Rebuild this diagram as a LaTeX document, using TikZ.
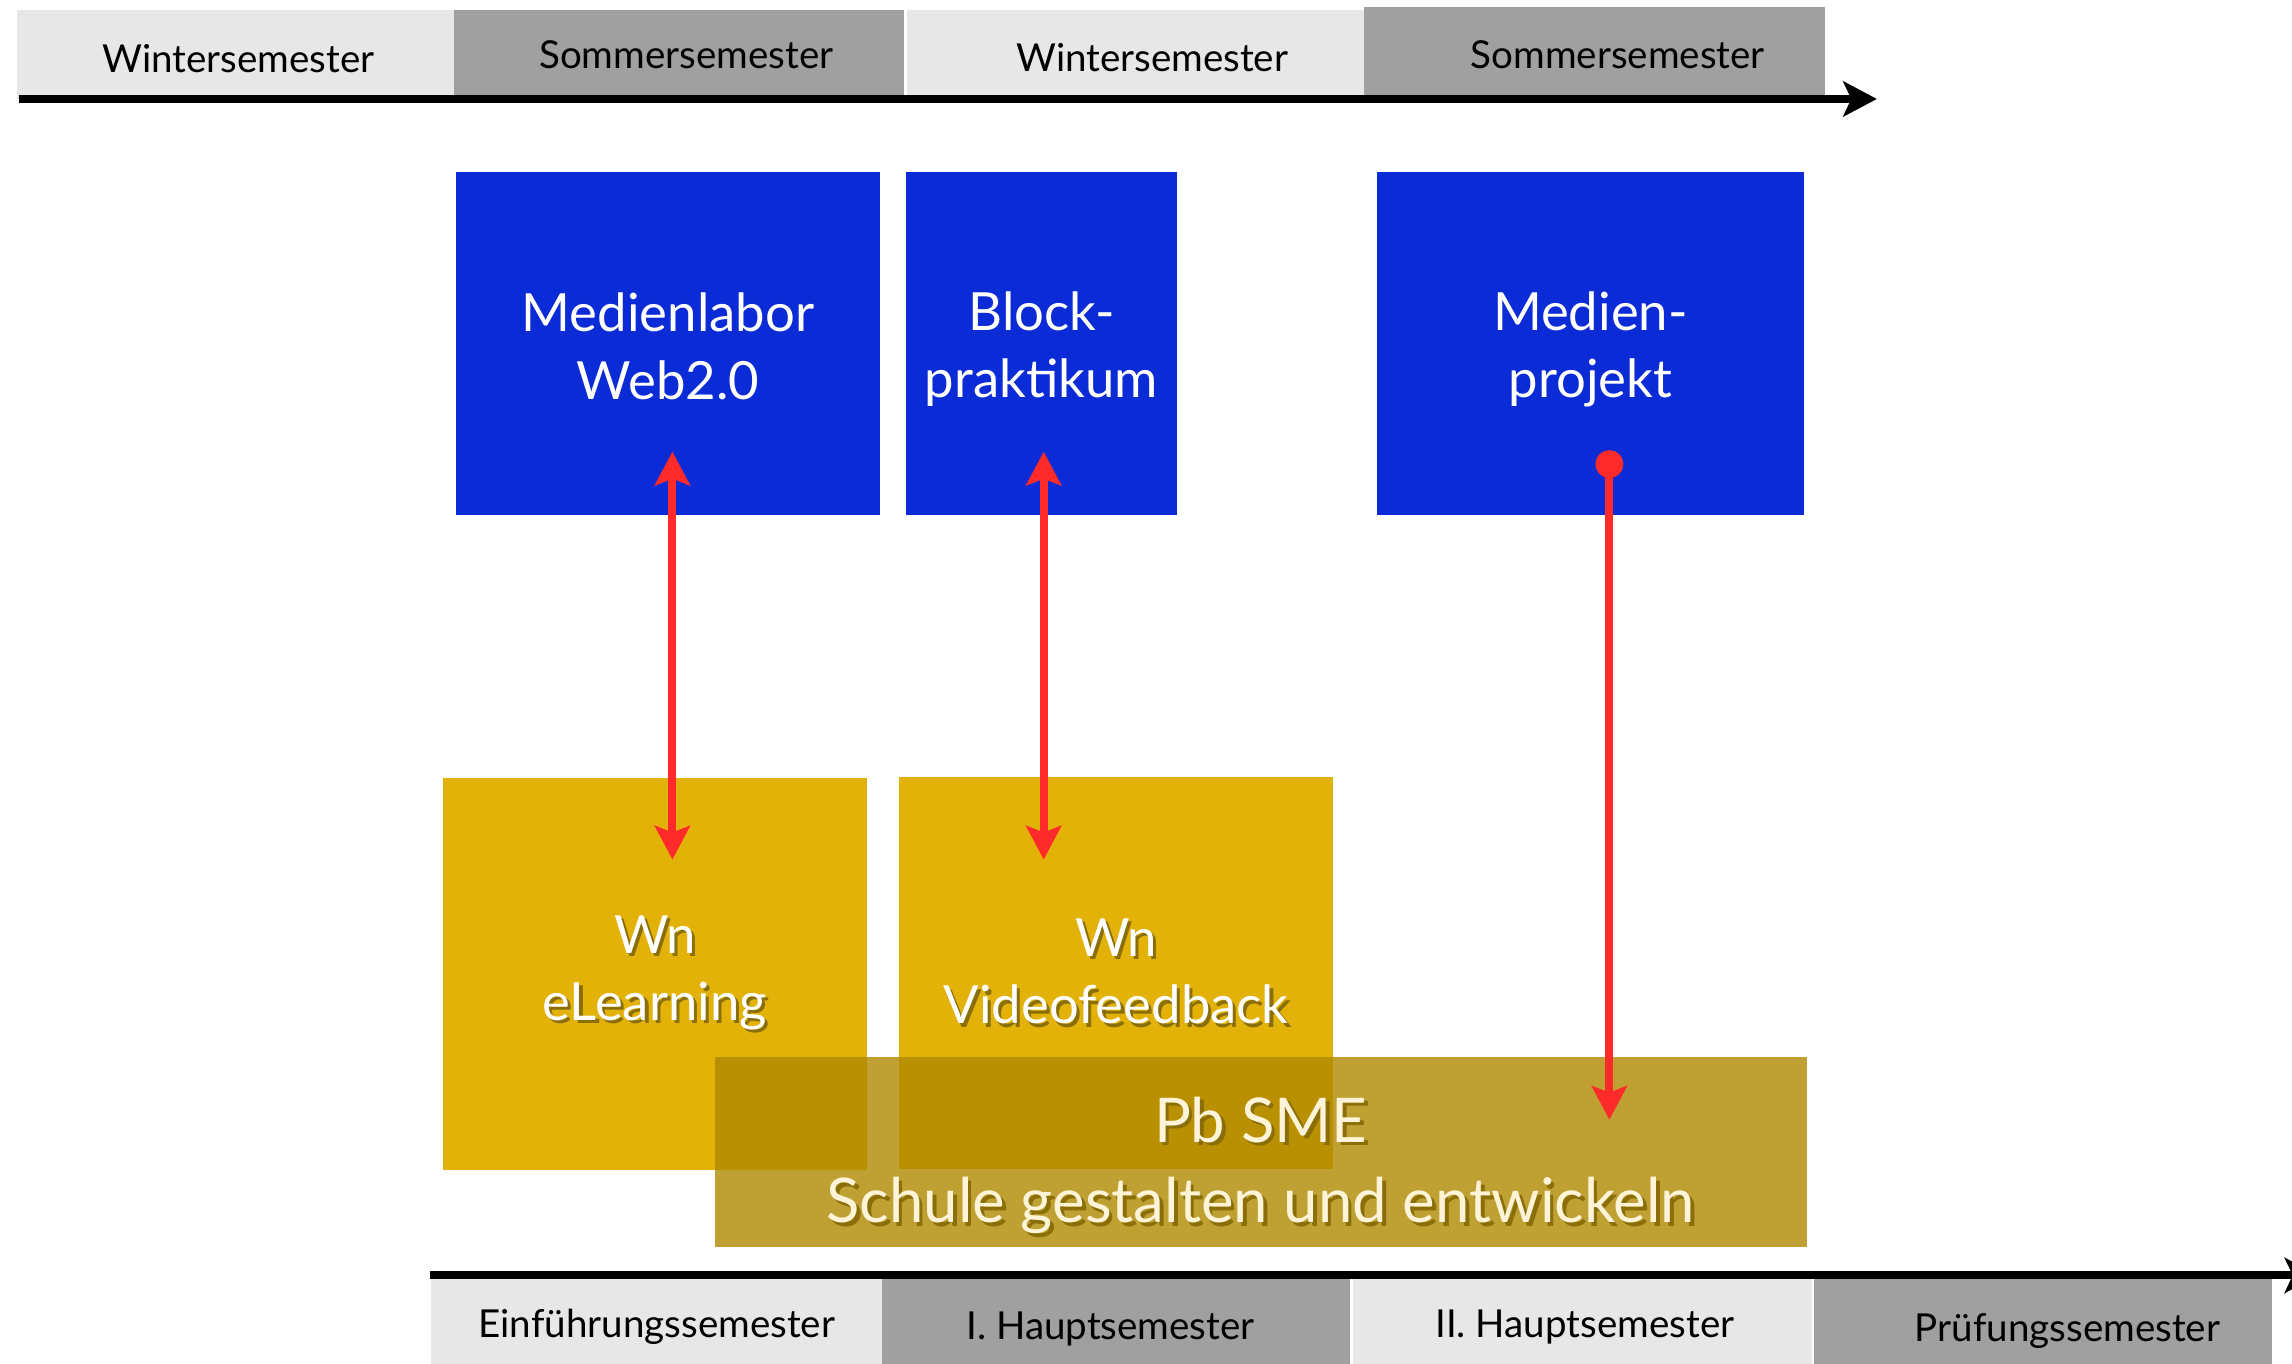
\documentclass[tikz,border=0pt]{standalone}
\usepackage{fontspec}
\setmainfont{Lato}
\usetikzlibrary{arrows.meta,calc}

\definecolor{semhell}{HTML}{E7E7E7}
\definecolor{semdunkel}{HTML}{A0A0A0}
\definecolor{kursblau}{HTML}{0B2BD6}
\definecolor{wahlgelb}{HTML}{E3B209}
\definecolor{pboliv}{HTML}{AF8800}
\definecolor{pfeilrot}{HTML}{FF2A2A}
\definecolor{textcreme}{HTML}{FFF4D8}
\definecolor{schattenbraun}{HTML}{8A6E08}

% Schrift mit weichem Schlagschatten
\newcommand{\mitSchatten}[1]{%
  \makebox[0pt][l]{\kern0.06em\raisebox{-0.06em}{\textcolor{schattenbraun}{#1}}}#1}

\begin{document}
\begin{tikzpicture}[
  x=0.2mm, y=-0.2mm,
  every node/.style={inner sep=0pt, outer sep=0pt},
  bandtext/.style={font=\fontsize{15}{18}\selectfont, text=black},
  bandhell/.style={fill=semhell, minimum height=12.18mm},
  banddunkel/.style={fill=semdunkel, minimum height=12.18mm},
  kurs/.style={fill=kursblau, minimum height=46.8mm},
  kurstext/.style={text=white, align=center, font=\fontsize{20.5}{26.2}\selectfont},
  wahl/.style={fill=wahlgelb, text=white, align=center, minimum height=53.68mm,
    font=\fontsize{20.5}{26.2}\selectfont},
  pbkasten/.style={fill=pboliv, fill opacity=0.8, minimum width=149.4mm, minimum height=26mm},
  pbtext/.style={text=textcreme, align=center, font=\fontsize{24}{31.3}\selectfont},
  achse/.style={line width=1.1mm, -{Stealth[length=4.6mm, width=4.8mm, inset=1.1mm]}},
  zweipfeil/.style={pfeilrot, line width=1.1mm,
    {Stealth[length=4.6mm, width=4.8mm, inset=0.9mm]}-{Stealth[length=4.6mm, width=4.8mm, inset=0.9mm]}},
  punktpfeil/.style={pfeilrot, line width=1.1mm,
    {Circle[length=3.8mm]}-{Stealth[length=4.6mm, width=4.8mm, inset=0.9mm]}},
]
\useasboundingbox (0,0) rectangle (1568,933);

% --- Semesterleiste oben
\node[bandhell, minimum width=59.78mm,
  label={[bandtext, xshift=0.4mm, yshift=-0.6mm]center:Wintersemester}]
  (ws1) at (161.05,37.25) {};
\node[banddunkel, minimum width=61.6mm,
  label={[bandtext, xshift=1mm]center:Sommersemester}]
  (ss1) at (464.5,37.25) {};
\node[bandhell, minimum width=62.7mm,
  label={[bandtext, xshift=2.2mm, yshift=-0.4mm]center:Wintersemester}]
  (ws2) at (777.25,37.25) {};
\node[banddunkel, minimum width=63.1mm, minimum height=12.62mm,
  label={[bandtext, xshift=3.2mm, yshift=-0.2mm]center:Sommersemester}]
  (ss2) at (1090.75,36.15) {};

\coordinate (obenA) at (13,67.7);
\coordinate (obenB) at (1284,67.7);
\draw[achse] (obenA) -- (obenB);

% --- Veranstaltungen
\node[kurs, minimum width=58mm,
  label={[kurstext, yshift=-0.4mm]center:{Medienlabor\\Web2.0}}] (medlab) at (457,235) {};
\node[kurs, minimum width=37mm,
  label={[kurstext, yshift=-0.8mm]center:{Block-\\praktikum}}] (block) at (712.5,235) {};
\node[kurs, minimum width=58.4mm,
  label={[kurstext, yshift=-0.8mm]center:{Medien-\\projekt}}] (medprj) at (1088,235) {};

\node[wahl, minimum width=58mm] (wnel) at (448,666.5)
  {\mitSchatten{Wn}\\\mitSchatten{eLearning}};
\node[wahl, minimum width=59.4mm] (wnvf) at (763.5,665.8)
  {\mitSchatten{Wn}\\\mitSchatten{Videofeedback}};

\node[pbkasten, label={[pbtext, yshift=-2.1mm]center:{\mitSchatten{Pb SME}\\\mitSchatten{Schule gestalten und entwickeln}}}]
  (pbsme) at (862.5,788) {};

% --- Verbindungen
\coordinate (elOben) at (460,309);
\coordinate (elUnten) at (460,588);
\coordinate (vfOben) at (714,309);
\coordinate (vfUnten) at (714,588);
\coordinate (prjStart) at (1101,308);
\coordinate (prjEnde) at (1101,766);
\draw[zweipfeil] (elUnten) -- (elOben);
\draw[zweipfeil] (vfUnten) -- (vfOben);
\draw[punktpfeil] (prjStart) -- (prjEnde);

% --- Semesterleiste unten
\coordinate (untenA) at (294,872.5);
\coordinate (untenB) at (1586,872.5);
\draw[achse] (untenA) -- (untenB);

\node[bandhell, minimum width=61.72mm, minimum height=11.8mm,
  label={[bandtext, yshift=-0.6mm]center:Einführungssemester}] (einf) at (449.3,904.5) {};
\node[banddunkel, minimum width=64.04mm, minimum height=11.8mm,
  label={[bandtext, xshift=-0.8mm, yshift=-0.9mm]center:I. Hauptsemester}] (haupt1) at (763.7,904.5) {};
\node[bandhell, minimum width=62.86mm, minimum height=11.8mm,
  label={[bandtext, xshift=0.3mm, yshift=-0.6mm]center:II. Hauptsemester}] (haupt2) at (1082.75,904.5) {};
\node[banddunkel, minimum width=62.64mm, minimum height=11.8mm,
  label={[bandtext, xshift=3.4mm, yshift=-1.2mm]center:Prüfungssemester}] (pruef) at (1397.4,904.5) {};

\end{tikzpicture}
\end{document}
